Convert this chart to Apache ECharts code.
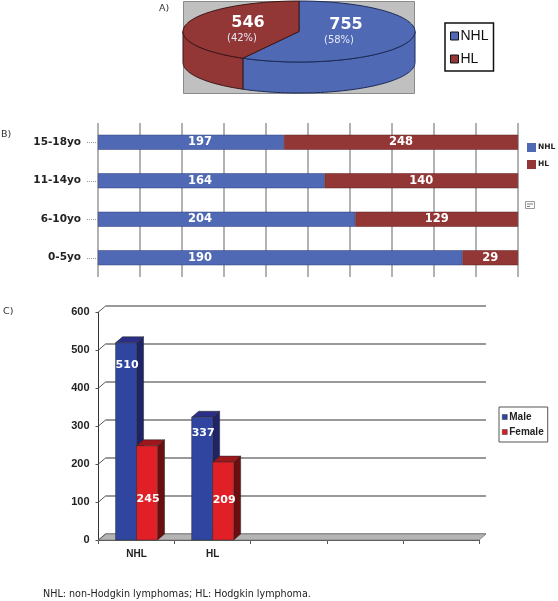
<!DOCTYPE html>
<html>
<head>
<meta charset="utf-8">
<style>
html, body { margin: 0; padding: 0; background: #fff; }
#chart1 { width: 558px; height: 601px; }
</style>
<script src="https://cdn.jsdelivr.net/npm/echarts@6/dist/echarts.min.js"></script>
</head>
<body>
<div id="chart1"></div>
<script>
// 数据 A: pie
let pieNames = ['NHL', 'HL'];
let pieValues = [755, 546];

// 数据 B: age groups, drawn as 100% stacked bars
let ageGroups = ['0-5yo', '6-10yo', '11-14yo', '15-18yo'];
let ageNHL = [190, 204, 164, 197];
let ageHL = [29, 129, 140, 248];

// 数据 C: sex. Printed labels and drawn heights differ a little in the original
let sexCategories = ['NHL', 'HL', '', '', ''];
let sexTicks = [0, 100, 200, 300, 400, 500, 600];
let maleLabels = [510, 337];
let femaleLabels = [245, 209];
let maleHeights = [519, 323];
let femaleHeights = [248, 205];

let blue = '#4f69b5', darkRed = '#933636';
let sans = '"DejaVu Sans"', arial = '"Liberation Sans"';

let chart1 = echarts.init(document.getElementById('chart1'));

// 假3D饼图 angles run clockwise from 12 o'clock
let pieBox = { cx: 299, cy: 31.5, rx: 116, ry: 30.5, depth: 31 };
let pieTotal = pieValues[0] + pieValues[1];

function ellipsePoint(deg, dy) {
    let a = deg * Math.PI / 180;
    return [pieBox.cx + pieBox.rx * Math.sin(a), pieBox.cy - pieBox.ry * Math.cos(a) + dy];
}

function arc(from, to, dy) {
    let pts = [];
    let steps = Math.max(2, Math.ceil(Math.abs(to - from) / 2));
    for (let i = 0; i <= steps; i++) {
        pts.push(ellipsePoint(from + (to - from) * i / steps, dy));
    }
    return pts;
}

function pieSeries(index, color, stroke, numPos, pctPos) {
    return {
        name: pieNames[index],
        type: 'custom',
        coordinateSystem: 'none',
        itemStyle: { color: color },
        silent: true,
        data: [pieValues[index]],
        renderItem: function () {
            let before = index === 0 ? 0 : pieValues[0];
            let start = before / pieTotal * 360;
            let end = (before + pieValues[index]) / pieTotal * 360;
            let style = { fill: color, stroke: stroke, lineWidth: 1 };
            let children = [];
            // side wall, only the front half of the ellipse shows
            let f = Math.max(start, 90), t = Math.min(end, 270);
            if (t > f) {
                children.push({
                    type: 'polygon',
                    shape: { points: arc(f, t, 0).concat(arc(t, f, pieBox.depth)) },
                    style: style
                });
            }
            children.push({
                type: 'polygon',
                shape: { points: [[pieBox.cx, pieBox.cy]].concat(arc(start, end, 0)) },
                style: style
            });
            children.push({
                type: 'text',
                x: numPos[0], y: numPos[1],
                style: {
                    text: String(pieValues[index]), fill: '#fff', align: 'center', verticalAlign: 'middle',
                    font: 'bold 16px ' + sans
                }
            });
            children.push({
                type: 'text',
                x: pctPos[0], y: pctPos[1],
                style: {
                    text: '(' + Math.round(pieValues[index] / pieTotal * 100) + '%)', fill: '#e6e9f4',
                    align: 'center', verticalAlign: 'middle', font: '10px ' + sans
                }
            });
            return { type: 'group', children: children };
        }
    };
}

// 3D柱子 front face, side face, top face
let barDepth = { x: 7, y: 6 };
let barWidth = 21;

function prism(x, yTop, yBase, colors) {
    let d = barDepth;
    return [
        {
            type: 'polygon',
            shape: { points: [[x + barWidth, yTop], [x + barWidth + d.x, yTop - d.y], [x + barWidth + d.x, yBase - d.y], [x + barWidth, yBase]] },
            style: { fill: colors.side, stroke: '#222', lineWidth: 0.5 }
        },
        {
            type: 'polygon',
            shape: { points: [[x, yTop], [x + d.x, yTop - d.y], [x + barWidth + d.x, yTop - d.y], [x + barWidth, yTop]] },
            style: { fill: colors.top, stroke: '#222', lineWidth: 0.5 }
        },
        {
            type: 'rect',
            shape: { x: x, y: yTop, width: barWidth, height: yBase - yTop },
            style: { fill: colors.front, stroke: '#333', lineWidth: 0.5 }
        }
    ];
}

function sexSeries(name, heights, labels, side, colors, labelDy) {
    return {
        name: name,
        type: 'custom',
        xAxisIndex: 1,
        yAxisIndex: 1,
        z: side < 0 ? 4 : 5,
        silent: true,
        itemStyle: { color: colors.front },
        encode: { x: 0, y: 1 },
        data: heights.map(function (h, i) { return [i, h, labels[i]]; }),
        renderItem: function (params, api) {
            let i = api.value(0);
            let top = api.coord([i, api.value(1)]);
            let base = api.coord([i, 0]);
            let x = side < 0 ? top[0] - barWidth : top[0];
            let children = prism(x, top[1], base[1], colors);
            children.push({
                type: 'text',
                x: x + barWidth / 2 + 1, y: top[1] + labelDy[i],
                style: {
                    text: String(api.value(2)), fill: '#fff', align: 'center', verticalAlign: 'middle',
                    font: 'bold 11px ' + sans
                }
            });
            return { type: 'group', children: children };
        }
    };
}

function pct(a, b) {
    return a.map(function (v, i) { return v / (v + b[i]) * 100; });
}

let ageLabelStyle = { show: true, color: '#fff', fontFamily: sans, fontWeight: 'bold', fontSize: 11.5 };

let option = {
    backgroundColor: '#fff',
    animation: false,
    textStyle: { fontFamily: sans },
    grid: [
        { left: 98, top: 123, width: 420, height: 154 },
        { left: 98.5, top: 312, width: 380.5, height: 228 },
        { left: 105.5, top: 306, width: 380.5, height: 228 }
    ],
    xAxis: [
        {
            gridIndex: 0, type: 'value', min: 0, max: 100, interval: 10,
            axisLabel: { show: false }, axisTick: { show: false }, axisLine: { show: false },
            splitLine: { lineStyle: { color: '#999', width: 1.5 } }
        },
        {
            gridIndex: 1, type: 'category', data: sexCategories,
            axisLine: { lineStyle: { color: '#333', width: 1 } },
            axisTick: { show: true, alignWithLabel: false, length: 4, lineStyle: { color: '#555' } },
            axisLabel: { interval: 0, margin: 9, color: '#222', fontFamily: arial, fontWeight: 'bold', fontSize: 10 },
            splitLine: { show: false }
        },
        {
            gridIndex: 2, type: 'category', data: sexCategories,
            axisLabel: { show: false }, axisTick: { show: false }, axisLine: { show: false }, splitLine: { show: false }
        }
    ],
    yAxis: [
        {
            gridIndex: 0, type: 'category', data: ageGroups, offset: 3,
            axisLine: { show: false },
            axisTick: { show: true, alignWithLabel: true, length: 11, lineStyle: { color: '#999', type: 'dotted' } },
            axisLabel: { margin: 14, color: '#222', fontFamily: sans, fontWeight: 'bold', fontSize: 10.5 },
            splitLine: { show: false }
        },
        {
            gridIndex: 1, type: 'value', min: 0, max: 600, interval: 100,
            axisLine: { show: true, lineStyle: { color: '#333', width: 1 } },
            axisTick: { show: true, length: 3, lineStyle: { color: '#555' } },
            axisLabel: {
                margin: 9, color: '#222', fontFamily: arial, fontWeight: 'bold', fontSize: 11,
                formatter: function (v) { return String(v); }
            },
            splitLine: { show: false }
        },
        {
            gridIndex: 2, type: 'value', min: 0, max: 600, interval: 100,
            axisLabel: { show: false }, axisTick: { show: false }, axisLine: { show: false },
            splitLine: { lineStyle: { color: '#999', width: 2 } }
        }
    ],
    legend: [
        {
            left: 445, top: 23, orient: 'vertical', selectedMode: false,
            data: [
                { name: 'NHL', itemStyle: { color: blue, borderColor: '#111', borderWidth: 1 } },
                { name: 'HL', itemStyle: { color: darkRed, borderColor: '#111', borderWidth: 1 } }
            ],
            icon: 'rect', itemWidth: 8, itemHeight: 8, itemGap: 9, padding: [6, 5, 5, 5],
            borderColor: '#111', borderWidth: 1.5, backgroundColor: '#fff',
            textStyle: { fontFamily: arial, fontSize: 14, color: '#111', padding: [0, 0, 0, -3] }
        },
        {
            left: 527, top: 143, orient: 'vertical', selectedMode: false,
            data: [
                { name: 'NHL', itemStyle: { color: blue } },
                { name: 'HL', itemStyle: { color: darkRed } }
            ],
            icon: 'rect', itemWidth: 9, itemHeight: 9, itemGap: 8, padding: 0,
            textStyle: { fontFamily: sans, fontWeight: 'bold', fontSize: 7.5, color: '#222', padding: [0, 0, 0, -3] }
        },
        {
            left: 499, top: 407, orient: 'vertical', selectedMode: false,
            data: [
                { name: 'Male', itemStyle: { color: '#2f459f', borderColor: '#333', borderWidth: 0.5 } },
                { name: 'Female', itemStyle: { color: '#d81f26', borderColor: '#333', borderWidth: 0.5 } }
            ],
            icon: 'rect', itemWidth: 5, itemHeight: 5, itemGap: 5, padding: [5, 4, 5, 3],
            borderColor: '#555', borderWidth: 1, backgroundColor: '#fff',
            textStyle: { fontFamily: arial, fontWeight: 'bold', fontSize: 10, color: '#222', padding: [0, 0, 0, -3] }
        }
    ],
    graphic: [
        { type: 'rect', z: 0, shape: { x: 183.5, y: 1.5, width: 231, height: 92 }, style: { fill: '#c0c0c0', stroke: '#8a8a8a', lineWidth: 1 } },
        { type: 'text', x: 159, y: 4, style: { text: 'A)', fill: '#333', font: '9.5px ' + sans } },
        { type: 'text', x: 1, y: 130, style: { text: 'B)', fill: '#333', font: '9.5px ' + sans } },
        { type: 'text', x: 3, y: 307, style: { text: 'C)', fill: '#333', font: '9.5px ' + sans } },
        { type: 'text', x: 43, y: 589, style: { text: 'NHL: non-Hodgkin lymphomas; HL: Hodgkin lymphoma.', fill: '#222', font: '9.6px ' + sans } },
        // stray legend-key box that sits beside panel B in the original
        { type: 'rect', shape: { x: 525.5, y: 201.5, width: 9, height: 7 }, style: { fill: '#fff', stroke: '#999', lineWidth: 1 } },
        { type: 'line', shape: { x1: 527, y1: 204, x2: 533, y2: 204 }, style: { stroke: '#777', lineWidth: 1 } },
        { type: 'line', shape: { x1: 527, y1: 206.5, x2: 530, y2: 206.5 }, style: { stroke: '#777', lineWidth: 1 } }
    ],
    series: [
        pieSeries(0, blue, '#1d2a55', [346, 25], [339, 40]),
        pieSeries(1, darkRed, '#3c1616', [248, 23], [242, 38]),
        {
            name: 'NHL', type: 'bar', stack: 'age', xAxisIndex: 0, yAxisIndex: 0, barWidth: 15, silent: true,
            itemStyle: { color: blue, borderColor: '#2c3d78', borderWidth: 0.5 },
            label: Object.assign({}, ageLabelStyle, {
                position: 'insideLeft', distance: 90,
                formatter: function (p) { return ageNHL[p.dataIndex]; }
            }),
            data: pct(ageNHL, ageHL)
        },
        {
            name: 'HL', type: 'bar', stack: 'age', xAxisIndex: 0, yAxisIndex: 0, barWidth: 15, silent: true,
            itemStyle: { color: darkRed, borderColor: '#5c2020', borderWidth: 0.5 },
            label: Object.assign({}, ageLabelStyle, {
                position: 'inside',
                formatter: function (p) { return ageHL[p.dataIndex]; }
            }),
            data: pct(ageHL, ageNHL)
        },
        {
            // 地板 and the wall connectors, drawn from the axis scale
            type: 'custom', xAxisIndex: 1, yAxisIndex: 1, z: 3, silent: true,
            data: sexTicks.map(function (t) { return [0, t]; }),
            encode: { x: 0, y: 1 },
            renderItem: function (params, api) {
                let sys = params.coordSys;
                let y = api.coord([0, api.value(1)])[1];
                let d = barDepth;
                let connector = {
                    type: 'line',
                    shape: { x1: sys.x, y1: y, x2: sys.x + d.x, y2: y - d.y },
                    style: { stroke: '#555', lineWidth: 1 }
                };
                if (api.value(1) !== 0) {
                    return connector;
                }
                return {
                    type: 'group',
                    children: [{
                        type: 'polygon',
                        shape: { points: [[sys.x, y], [sys.x + d.x, y - d.y], [sys.x + sys.width + d.x, y - d.y], [sys.x + sys.width, y]] },
                        style: { fill: '#b4b4b4', stroke: '#888', lineWidth: 1 }
                    }, connector]
                };
            }
        },
        sexSeries('Male', maleHeights, maleLabels, -1, { front: '#2f459f', side: '#1f2468', top: '#2a2f85' }, [22, 16]),
        sexSeries('Female', femaleHeights, femaleLabels, 1, { front: '#e01f26', side: '#6b0e10', top: '#9d171c' }, [53, 38])
    ]
};

window.onresize = chart1.resize;
chart1.setOption(option);
</script>
</body>
</html>
